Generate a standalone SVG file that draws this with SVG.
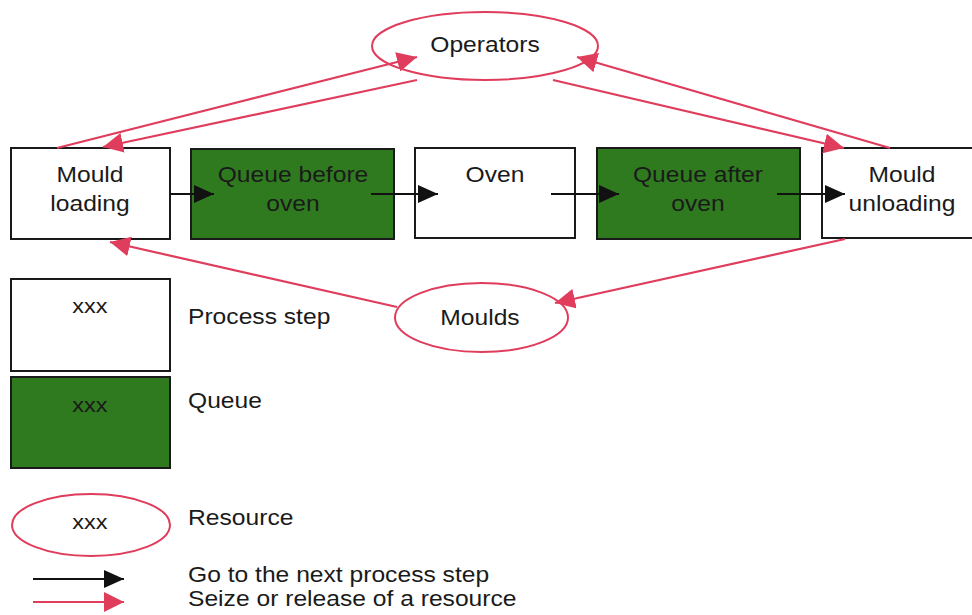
<svg xmlns="http://www.w3.org/2000/svg" width="972" height="615" viewBox="0 0 972 615">
<defs>
<style>
text{font-family:"Liberation Sans",Arial,sans-serif;font-size:22px;fill:#1a1a1a;text-anchor:middle;transform-box:fill-box;transform-origin:center;transform:scaleX(1.12)}
.lbl{text-anchor:start;transform-origin:left center}
.x{font-size:21px}
.box{fill:#fff;stroke:#1a1a1a;stroke-width:2}
.queue{fill:#2f7a1f;stroke:#1a1a1a;stroke-width:2}
.res{fill:#fff;stroke:#e03c5c;stroke-width:2}
.flow{stroke:#111;stroke-width:2;fill:none}
.seize{stroke:#e03c5c;stroke-width:2.2;fill:none}
</style>
<marker id="ab" markerUnits="userSpaceOnUse" markerWidth="22" markerHeight="18" refX="20" refY="9" orient="auto"><path d="M0,0 L20,9 L0,18 Z" fill="#111"/></marker>
<marker id="ar" markerUnits="userSpaceOnUse" markerWidth="22" markerHeight="20" refX="20" refY="10" orient="auto"><path d="M0,0 L20,10 L0,20 Z" fill="#e03c5c"/></marker>
</defs>
<rect width="972" height="615" fill="#fff"/>
<g id="operators"><ellipse class="res" cx="485" cy="46" rx="113" ry="34"/><text x="485" y="52">Operators</text></g>
<g id="mould-loading"><rect class="box" x="11" y="148" width="159" height="91"/><text x="90" y="182">Mould</text><text x="90" y="211">loading</text></g>
<g id="queue-before-oven"><rect class="queue" x="191" y="149" width="203" height="90"/><text x="293" y="182">Queue before</text><text x="293" y="211">oven</text></g>
<g id="oven"><rect class="box" x="415" y="148" width="160" height="90"/><text x="495" y="182">Oven</text></g>
<g id="queue-after-oven"><rect class="queue" x="597" y="148" width="203" height="91"/><text x="698" y="182">Queue after</text><text x="698" y="211">oven</text></g>
<g id="mould-unloading"><rect class="box" x="822" y="148" width="160" height="90"/><text x="902" y="182">Mould</text><text x="902" y="211">unloading</text></g>
<g id="moulds"><ellipse class="res" cx="481.5" cy="317.5" rx="86.5" ry="34.5"/><text x="480" y="325">Moulds</text></g>
<g id="connectors">
<line class="flow" x1="170" y1="194" x2="214" y2="194" marker-end="url(#ab)"/>
<line class="flow" x1="371" y1="194" x2="438" y2="194" marker-end="url(#ab)"/>
<line class="flow" x1="551" y1="194" x2="619" y2="194" marker-end="url(#ab)"/>
<line class="flow" x1="777" y1="194" x2="845" y2="194" marker-end="url(#ab)"/>
<line class="seize" x1="57" y1="148" x2="417" y2="57" marker-end="url(#ar)"/>
<line class="seize" x1="417" y1="80" x2="103" y2="147" marker-end="url(#ar)"/>
<line class="seize" x1="890" y1="148" x2="577" y2="57" marker-end="url(#ar)"/>
<line class="seize" x1="553" y1="80" x2="844" y2="148" marker-end="url(#ar)"/>
<line class="seize" x1="845" y1="239" x2="555" y2="303" marker-end="url(#ar)"/>
<line class="seize" x1="397" y1="307" x2="110" y2="242" marker-end="url(#ar)"/>
</g>
<g id="legend">
<rect class="box" x="11" y="279" width="159" height="92"/><text class="x" x="90" y="313">xxx</text>
<text class="lbl" x="188" y="324">Process step</text>
<rect class="queue" x="11" y="377" width="159" height="91"/><text class="x" x="90" y="412">xxx</text>
<text class="lbl" x="188" y="408">Queue</text>
<ellipse class="res" cx="91" cy="525" rx="79" ry="31"/><text class="x" x="90" y="529">xxx</text>
<text class="lbl" x="188" y="525">Resource</text>
<line class="flow" x1="33" y1="579" x2="124" y2="579" marker-end="url(#ab)"/>
<text class="lbl" x="188" y="582">Go to the next process step</text>
<line class="seize" x1="33" y1="602" x2="124" y2="602" marker-end="url(#ar)"/>
<text class="lbl" x="188" y="606">Seize or release of a resource</text>
</g>
</svg>
